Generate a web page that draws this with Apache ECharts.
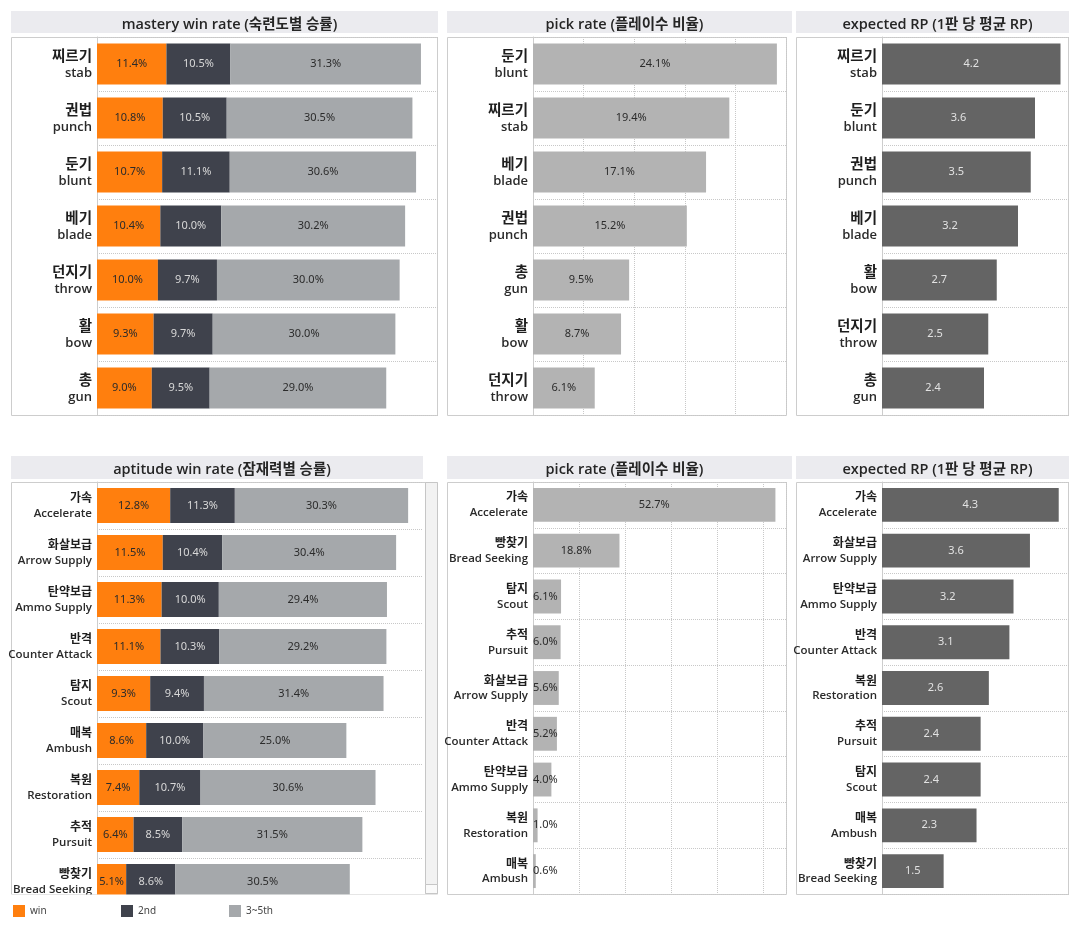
<!DOCTYPE html>
<html>
<head>
<meta charset="utf-8">
<script src="https://cdn.jsdelivr.net/npm/echarts@6/dist/echarts.min.js"></script>
<style>
  html, body { margin: 0; padding: 0; background: #fff; }
  #main { width: 1080px; height: 936px; }
</style>
</head>
<body>
<div id="main"></div>
<script>
// ---- data ----
var masteryKo = ['찌르기', '권법', '둔기', '베기', '던지기', '활', '총'];
var masteryEn = ['stab', 'punch', 'blunt', 'blade', 'throw', 'bow', 'gun'];
var masteryWin = [11.4, 10.8, 10.7, 10.4, 10.0, 9.3, 9.0];
var mastery2nd = [10.5, 10.5, 11.1, 10.0, 9.7, 9.7, 9.5];
var mastery3rd = [31.3, 30.5, 30.6, 30.2, 30.0, 30.0, 29.0];

var mPickKo = ['둔기', '찌르기', '베기', '권법', '총', '활', '던지기'];
var mPickEn = ['blunt', 'stab', 'blade', 'punch', 'gun', 'bow', 'throw'];
var mPick = [24.1, 19.4, 17.1, 15.2, 9.5, 8.7, 6.1];

var mRpKo = ['찌르기', '둔기', '권법', '베기', '활', '던지기', '총'];
var mRpEn = ['stab', 'blunt', 'punch', 'blade', 'bow', 'throw', 'gun'];
var mRp = [4.2, 3.6, 3.5, 3.2, 2.7, 2.5, 2.4];

var aptKo = ['가속', '화살보급', '탄약보급', '반격', '탐지', '매복', '복원', '추적', '빵찾기'];
var aptEn = ['Accelerate', 'Arrow Supply', 'Ammo Supply', 'Counter Attack', 'Scout', 'Ambush', 'Restoration', 'Pursuit', 'Bread Seeking'];
var aptWin = [12.8, 11.5, 11.3, 11.1, 9.3, 8.6, 7.4, 6.4, 5.1];
var apt2nd = [11.3, 10.4, 10.0, 10.3, 9.4, 10.0, 10.7, 8.5, 8.6];
var apt3rd = [30.3, 30.4, 29.4, 29.2, 31.4, 25.0, 30.6, 31.5, 30.5];

var aPickKo = ['가속', '빵찾기', '탐지', '추적', '화살보급', '반격', '탄약보급', '복원', '매복'];
var aPickEn = ['Accelerate', 'Bread Seeking', 'Scout', 'Pursuit', 'Arrow Supply', 'Counter Attack', 'Ammo Supply', 'Restoration', 'Ambush'];
var aPick = [52.7, 18.8, 6.1, 6.0, 5.6, 5.2, 4.0, 1.0, 0.6];

var aRpKo = ['가속', '화살보급', '탄약보급', '반격', '복원', '추적', '탐지', '매복', '빵찾기'];
var aRpEn = ['Accelerate', 'Arrow Supply', 'Ammo Supply', 'Counter Attack', 'Restoration', 'Pursuit', 'Scout', 'Ambush', 'Bread Seeking'];
var aRp = [4.3, 3.6, 3.2, 3.1, 2.6, 2.4, 2.4, 2.3, 1.5];

var legendNames = ['win', '2nd', '3~5th'];
var titles = ['mastery win rate (숙련도별 승률)', 'pick rate (플레이수 비율)', 'expected RP (1판 당 평균 RP)',
              'aptitude win rate (잠재력별 승률)', 'pick rate (플레이수 비율)', 'expected RP (1판 당 평균 RP)'];

// ---- helpers ----
var FONT = '"Open Sans", "Noto Sans CJK KR", sans-serif';
var C_WIN = '#ff7f0e', C_2ND = '#3f424c', C_3RD = '#a5a8ab', C_PICK = '#b3b3b3', C_RP = '#646464';
var BORDER = '#cdcdcd';

function cats(ko, en) {
  return ko.map(function (k, i) { return k + '\n' + en[i]; });
}
function pct(p) { return p.value.toFixed(1) + '%'; }
function one(p) { return p.value.toFixed(1); }

function yAxis(idx, data, big) {
  var ks = big ? 14.5 : 12, es = big ? 13 : 11.5, lh = big ? 18 : 16;
  return {
    type: 'category', gridIndex: idx, data: data, inverse: true,
    axisLine: { show: true, lineStyle: { color: BORDER } },
    axisTick: { show: false },
    splitLine: { show: true, lineStyle: { type: 'dotted', color: '#c8c8c8' } },
    axisLabel: {
      margin: 5,
      formatter: function (v) {
        var s = v.split('\n');
        return '{k|' + s[0] + '}\n{e|' + s[1] + '}';
      },
      rich: {
        k: { fontFamily: '"Noto Sans CJK KR", sans-serif', fontWeight: 'bold', fontSize: ks, color: '#1e1e1e', lineHeight: lh, align: 'right' },
        e: { fontFamily: FONT, fontWeight: 600, fontSize: es, color: '#2a2a2a', lineHeight: lh, align: 'right' }
      }
    }
  };
}
function xAxis(idx, max, interval, grid) {
  return {
    type: 'value', gridIndex: idx, min: 0, max: max, interval: interval,
    axisLine: { show: false }, axisTick: { show: false }, axisLabel: { show: false },
    splitLine: { show: grid, lineStyle: { type: 'dotted', color: '#c8c8c8' } }
  };
}
function label(color, fmt) {
  return { show: true, position: 'inside', color: color, fontSize: 11, fontFamily: '"Noto Sans", sans-serif', formatter: fmt };
}
function stacked(idx, name, data, color, txt, stack, gap) {
  return {
    type: 'bar', name: name, xAxisIndex: idx, yAxisIndex: idx, stack: stack,
    data: data, barCategoryGap: gap, itemStyle: { color: color },
    label: label(txt, pct), emphasis: { disabled: true }
  };
}
// small pick-rate bars: the label does not fit, so it starts at the bar's left end
function pickData(vals, minFit) {
  return vals.map(function (v) {
    return v < minFit ? { value: v, label: { position: 'insideLeft', distance: 0 } } : v;
  });
}

// ---- layout (pixels) ----
var TOP = { head: 11, headH: 22, y: 37, h: 378 };
var BOT = { head: 456, headH: 23, y: 482, h: 412 };
var panels = [
  { hx: 11,  hw: 427, gx: 97,  gw: 341, row: TOP },
  { hx: 447, hw: 345, gx: 533, gw: 253, row: TOP },
  { hx: 796, hw: 273, gx: 882, gw: 187, row: TOP },
  { hx: 11,  hw: 412, gx: 97,  gw: 326, row: BOT },
  { hx: 447, hw: 345, gx: 533, gw: 253, row: BOT },
  { hx: 796, hw: 273, gx: 882, gw: 187, row: BOT }
];

var graphics = [];
var titleList = [];
panels.forEach(function (p, i) {
  graphics.push({ type: 'rect', z: 0, shape: { x: p.hx, y: p.row.head, width: p.hw, height: p.row.headH }, style: { fill: '#ebebef' } });
  var bw = (i === 3) ? 427 : (i === 1 || i === 4 ? 340 : p.hw);
  graphics.push({ type: 'rect', z: 0, shape: { x: p.hx + 0.5, y: p.row.y + 0.5, width: bw - 1, height: p.row.h }, style: { fill: 'none', stroke: BORDER, lineWidth: 1 } });
  titleList.push({
    text: titles[i], left: p.hx + p.hw / 2, top: p.row.head + 2, textAlign: 'center',
    textStyle: { fontFamily: FONT, fontSize: 14.5, fontWeight: 600, color: '#252525' }
  });
});
// aptitude panel is scrolled: last row is cut at the panel bottom
graphics.push({ type: 'rect', z: 50, shape: { x: 11, y: 894.5, width: 430, height: 12 }, style: { fill: '#fff' } });
// scrollbar of the aptitude panel
graphics.push({ type: 'rect', z: 51, shape: { x: 425.5, y: 482.5, width: 12, height: 411 }, style: { fill: '#f2f2f2', stroke: '#c6c6c6', lineWidth: 1 } });
graphics.push({ type: 'rect', z: 52, shape: { x: 425.5, y: 884.5, width: 12, height: 9 }, style: { fill: '#fafafa', stroke: '#c6c6c6', lineWidth: 1 } });

var grids = panels.map(function (p, i) {
  var h = (i === 3) ? 423 : p.row.h;
  return { left: p.gx, top: p.row.y, width: p.gw, height: h };
});

// one legend per item, spaced like the original
var legendX = [13, 121, 229];
var legends = legendNames.map(function (n, i) {
  return {
    data: [n], left: legendX[i], top: 905, z: 60, itemWidth: 12, itemHeight: 12,
    icon: 'rect', selectedMode: false, padding: 0,
    textStyle: { fontSize: 10, color: '#444', fontFamily: '"Noto Sans", sans-serif' }
  };
});

var option = {
  animation: false,
  textStyle: { fontFamily: FONT },
  title: titleList,
  graphic: graphics,
  legend: legends,
  grid: grids,
  xAxis: [
    xAxis(0, 56, 8, false),
    xAxis(1, 25, 5, true),
    xAxis(2, 4.4, 1, false),
    xAxis(3, 57, 19, false),
    xAxis(4, 55, 10, true),
    xAxis(5, 4.55, 1, false)
  ],
  yAxis: [
    yAxis(0, cats(masteryKo, masteryEn), true),
    yAxis(1, cats(mPickKo, mPickEn), true),
    yAxis(2, cats(mRpKo, mRpEn), true),
    yAxis(3, cats(aptKo, aptEn), false),
    yAxis(4, cats(aPickKo, aPickEn), false),
    yAxis(5, cats(aRpKo, aRpEn), false)
  ],
  series: [
    stacked(0, 'win', masteryWin, C_WIN, '#2b2b2b', 'm', '24%'),
    stacked(0, '2nd', mastery2nd, C_2ND, '#d8d8d8', 'm', '24%'),
    stacked(0, '3~5th', mastery3rd, C_3RD, '#2b2b2b', 'm', '24%'),
    {
      type: 'bar', name: 'pickM', xAxisIndex: 1, yAxisIndex: 1, data: pickData(mPick, 3),
      barCategoryGap: '24%', itemStyle: { color: C_PICK }, label: label('#2b2b2b', pct), emphasis: { disabled: true }
    },
    {
      type: 'bar', name: 'rpM', xAxisIndex: 2, yAxisIndex: 2, data: mRp,
      barCategoryGap: '24%', itemStyle: { color: C_RP }, label: label('#e2e2e2', one), emphasis: { disabled: true }
    },
    stacked(3, 'win', aptWin, C_WIN, '#2b2b2b', 'a', '26%'),
    stacked(3, '2nd', apt2nd, C_2ND, '#d8d8d8', 'a', '26%'),
    stacked(3, '3~5th', apt3rd, C_3RD, '#2b2b2b', 'a', '26%'),
    {
      type: 'bar', name: 'pickA', xAxisIndex: 4, yAxisIndex: 4, data: pickData(aPick, 7),
      barCategoryGap: '26%', itemStyle: { color: C_PICK }, label: label('#2b2b2b', pct), emphasis: { disabled: true }
    },
    {
      type: 'bar', name: 'rpA', xAxisIndex: 5, yAxisIndex: 5, data: aRp,
      barCategoryGap: '26%', itemStyle: { color: C_RP }, label: label('#e2e2e2', one), emphasis: { disabled: true }
    }
  ]
};

var chart = echarts.init(document.getElementById('main'));
chart.setOption(option);
</script>
</body>
</html>
